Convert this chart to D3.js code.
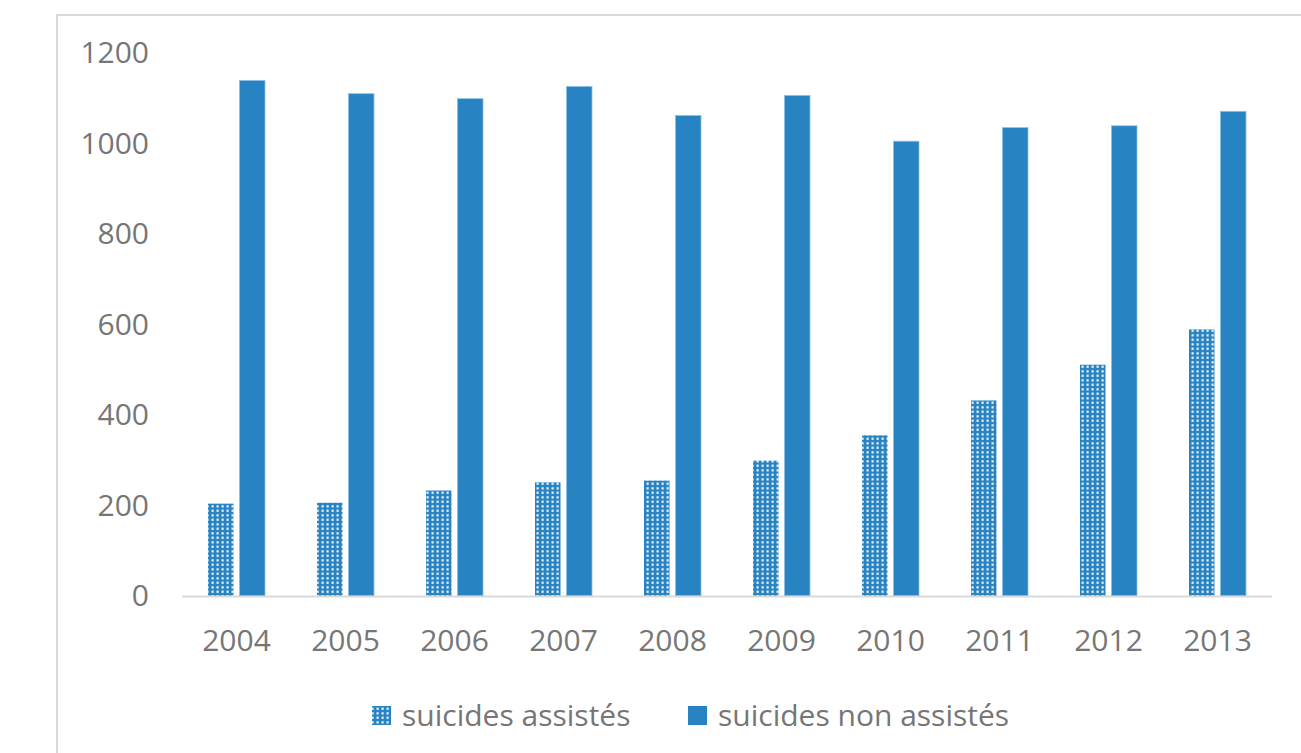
<!DOCTYPE html>
<html>
<head>
<meta charset="utf-8">
<script src="https://cdn.jsdelivr.net/npm/d3@7"></script>
<style>
  body { margin: 0; background: #fff; }
  svg { display: block; }
  text { font-family: "Open Sans", "Liberation Sans", sans-serif; fill: #767676; }
</style>
</head>
<body>
<div id="chart"></div>
<script>
(function () {
  // Data
  const years = ['2004', '2005', '2006', '2007', '2008', '2009', '2010', '2011', '2012', '2013'];
  const assisted = [203, 205, 232, 250, 254, 298, 354, 431, 510, 588];
  const nonAssisted = [1138, 1109, 1098, 1125, 1061, 1105, 1004, 1034, 1038, 1070];
  const seriesNames = ['suicides assistés', 'suicides non assistés'];
  const yTicks = [0, 200, 400, 600, 800, 1000, 1200];

  const width = 1301;
  const height = 753;
  const blue = '#2783c2';
  const fontSize = 30;

  const svg = d3.select('#chart').append('svg')
    .attr('width', width)
    .attr('height', height);

  // Pattern for the assisted series (dotted grid)
  const defs = svg.append('defs');
  const pat = defs.append('pattern')
    .attr('id', 'dots')
    .attr('width', 5)
    .attr('height', 4.5)
    .attr('patternUnits', 'userSpaceOnUse');
  pat.append('rect').attr('width', 5).attr('height', 4.5).attr('fill', blue);
  pat.append('rect').attr('x', 1.5).attr('y', 1.2).attr('width', 2.2).attr('height', 2.2).attr('fill', '#f2f7fc');

  // Chart frame
  svg.append('rect')
    .attr('x', 57)
    .attr('y', 15)
    .attr('width', 1400)
    .attr('height', 1000)
    .attr('fill', 'none')
    .attr('stroke', '#d9d9d9')
    .attr('stroke-width', 2);

  // Scales
  const x = d3.scaleBand().domain(years).range([182, 1272]);
  const y = d3.scaleLinear().domain([0, 1200]).range([595.5, 52.5]);

  const barW = 25.5;
  const gap = 6;

  // Y labels
  svg.append('g')
    .selectAll('text')
    .data(yTicks)
    .enter()
    .append('text')
    .attr('x', 149)
    .attr('y', d => y(d))
    .attr('dy', '0.36em')
    .attr('text-anchor', 'end')
    .attr('font-size', fontSize)
    .text(d => d);

  // Baseline
  svg.append('line')
    .attr('x1', x.range()[0])
    .attr('x2', x.range()[1])
    .attr('y1', y(0) + 1)
    .attr('y2', y(0) + 1)
    .attr('stroke', '#d9d9d9')
    .attr('stroke-width', 2);

  // Bars
  const center = d => x(d) + x.bandwidth() / 2;

  svg.append('g')
    .selectAll('rect')
    .data(years.map((yr, i) => ({ yr, v: assisted[i] })))
    .enter()
    .append('rect')
    .attr('x', d => center(d.yr) - gap / 2 - barW)
    .attr('y', d => y(d.v))
    .attr('width', barW)
    .attr('height', d => y(0) - y(d.v))
    .attr('fill', 'url(#dots)');

  svg.append('g')
    .selectAll('rect')
    .data(years.map((yr, i) => ({ yr, v: nonAssisted[i] })))
    .enter()
    .append('rect')
    .attr('x', d => center(d.yr) + gap / 2)
    .attr('y', d => y(d.v))
    .attr('width', barW)
    .attr('height', d => y(0) - y(d.v))
    .attr('fill', blue)
    .attr('stroke', '#8cc0e6')
    .attr('stroke-width', 0.8);

  // X labels
  svg.append('g')
    .selectAll('text')
    .data(years)
    .enter()
    .append('text')
    .attr('x', d => center(d))
    .attr('y', 651)
    .attr('text-anchor', 'middle')
    .attr('font-size', fontSize)
    .text(d => d);

  // Legend
  const legend = svg.append('g');
  const items = [
    { name: seriesNames[0], fill: 'url(#dots)', x: 372 },
    { name: seriesNames[1], fill: blue, x: 688 }
  ];
  items.forEach(it => {
    legend.append('rect')
      .attr('x', it.x)
      .attr('y', 706)
      .attr('width', 19)
      .attr('height', 19)
      .attr('fill', it.fill);
    legend.append('text')
      .attr('x', it.x + 30)
      .attr('y', 726)
      .attr('font-size', fontSize)
      .text(it.name);
  });
})();
</script>
</body>
</html>
